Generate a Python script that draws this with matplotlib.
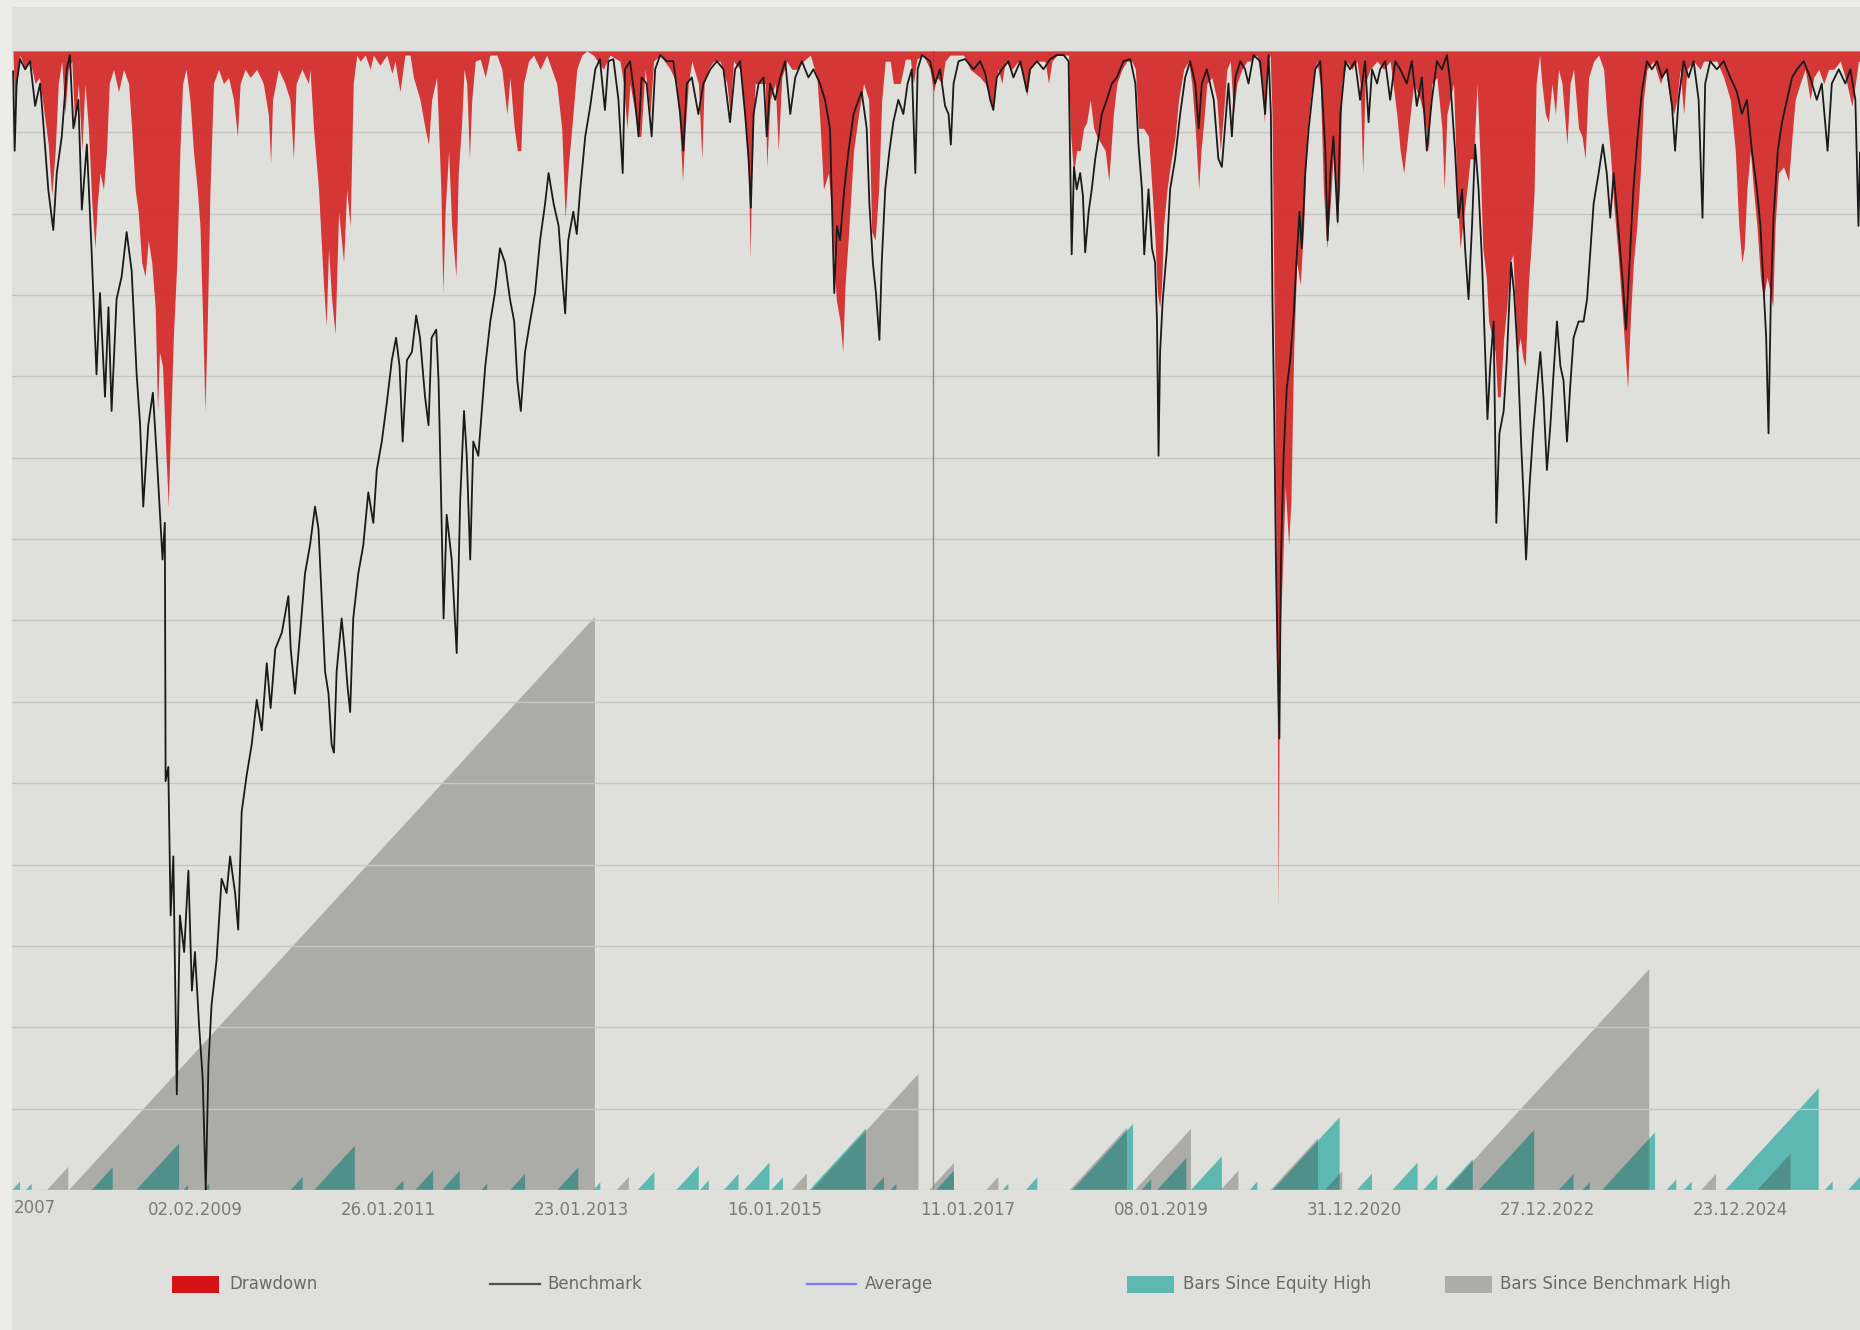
import numpy as np
import matplotlib
matplotlib.use("Agg")
import matplotlib.pyplot as plt
from matplotlib.patches import Rectangle
from matplotlib.lines import Line2D

# ---------------- data (x = bar index, y = drawdown in %) ----------------
bench_x = [27, 31, 36, 45, 58, 71, 84, 97, 105, 118, 131, 140, 153, 166, 174, 183, 196, 205, 218, 230,
           243, 252, 265, 274, 282, 295, 308, 321, 334, 347, 356, 364, 377, 389, 399, 414, 420, 422, 429, 435,
           442, 451, 459, 470, 481, 490, 498, 509, 518, 526, 533, 541, 554, 567, 580, 589, 602, 610, 619, 632,
           645, 658, 671, 684, 694, 706, 723, 740, 746, 757, 770, 783, 796,
           809, 818, 826, 835, 844, 852, 858, 865, 878, 887, 893, 900, 908, 921, 934, 947, 960, 969, 982, 995,
           1008, 1019, 1028, 1036, 1047, 1060, 1071, 1081, 1094, 1103, 1111, 1123, 1129, 1135, 1142, 1150, 1163,
           1176, 1185, 1195, 1202, 1211, 1219, 1232, 1241, 1250, 1263, 1275, 1288, 1301, 1314, 1325, 1333, 1342,
           1353, 1366, 1379, 1392, 1405, 1414, 1427, 1440, 1451, 1457, 1465, 1478, 1487, 1496, 1509, 1522, 1535,
           1547, 1560, 1569, 1582, 1595,
           1606, 1612, 1625, 1638, 1647, 1655, 1668, 1681, 1690, 1703, 1720, 1737, 1755, 1763, 1772, 1785, 1802,
           1815, 1833, 1850, 1867, 1884, 1897, 1910, 1923, 1932, 1938, 1945, 1958, 1971, 1979, 1988, 2001, 2014,
           2027, 2040, 2053, 2070, 2087, 2100, 2117, 2130, 2143, 2154, 2161, 2169, 2180, 2191, 2204, 2217, 2225,
           2238, 2245, 2254, 2262, 2271, 2277, 2286, 2297, 2307, 2320, 2333, 2344, 2355, 2364, 2370, 2381,
           2402, 2415, 2428, 2441, 2450, 2456, 2463, 2476, 2493, 2515, 2532, 2545, 2558, 2566, 2575, 2588, 2605,
           2618, 2636, 2653, 2661, 2679, 2696, 2713, 2731, 2748, 2761, 2769, 2775, 2782, 2791, 2798, 2804, 2813,
           2821, 2830, 2839, 2847, 2860, 2873, 2886, 2903, 2921, 2934, 2942, 2951, 2957, 2968, 2977, 2985, 2990,
           2994, 2998, 3005, 3016, 3024, 3037, 3050, 3063, 3076, 3089, 3098, 3106, 3119, 3137, 3149, 3158, 3167,
           3175, 3184, 3193, 3206,
           3218, 3227, 3240, 3257, 3270, 3279, 3285, 3289, 3294, 3298, 3302, 3307, 3311, 3318, 3326, 3335, 3344,
           3351, 3359, 3365, 3374, 3383, 3391, 3400, 3413, 3426, 3432, 3439, 3447, 3458, 3465, 3478, 3490, 3503,
           3516, 3529, 3538, 3547, 3560, 3568, 3581, 3594, 3607, 3620, 3637, 3650, 3663, 3676, 3689, 3702, 3715,
           3728, 3741, 3750, 3762, 3771, 3780, 3788, 3797, 3806, 3814, 3823, 3832, 3840, 3846, 3853, 3862, 3869,
           3877, 3888, 3896, 3907, 3915, 3924, 3933, 3940, 3946, 3955, 3964, 3974,
           3983, 3991, 4000, 4009, 4017, 4026, 4035, 4043, 4052, 4060, 4069, 4082, 4095, 4104, 4112, 4121, 4134,
           4145, 4155, 4164, 4173, 4186, 4197, 4205, 4214, 4224, 4235, 4246, 4259, 4272, 4285, 4298, 4311, 4324,
           4332, 4341, 4354, 4367, 4380, 4393, 4403, 4410, 4423, 4440, 4458, 4475, 4492, 4505, 4518, 4531, 4544,
           4553, 4561, 4568, 4574, 4580, 4587, 4598, 4609, 4622, 4635, 4648, 4665, 4682, 4699, 4712, 4727, 4738,
           4756, 4773, 4786, 4799, 4807, 4811]
bench_dd = [1.0, 4.9, 1.6, 0.4, 0.9, 0.5, 2.7, 1.6, 3.5, 6.8, 8.8, 6.0, 4.2, 0.9, 0.2, 3.8, 2.4, 7.8, 4.6, 9.7,
            15.9, 11.9, 17.0, 12.6, 17.7, 12.2, 11.1, 8.9, 10.8, 15.9, 18.4, 22.4, 18.4, 16.8, 19.9, 25.0, 23.2, 35.9, 35.2, 42.5,
            39.6, 51.3, 42.5, 44.3, 40.3, 46.2, 44.3, 48.0, 50.5, 56.0, 49.8, 46.9, 44.7, 40.7, 41.4, 39.6, 41.4, 43.2, 37.4, 35.6,
            34.1, 31.9, 33.4, 30.1, 32.3, 29.4, 28.6, 26.8, 29.4, 31.6, 28.7, 25.7, 24.3,
            22.4, 23.5, 26.8, 30.5, 31.6, 34.1, 34.5, 30.5, 27.9, 29.7, 31.2, 32.5, 27.9, 25.7, 24.3, 21.7, 23.2, 20.6, 19.2, 17.3,
            15.2, 14.1, 15.5, 19.2, 15.2, 14.8, 13.0, 14.1, 17.0, 18.4, 14.1, 13.7, 16.2, 21.4, 27.9, 22.8, 25.0,
            29.6, 22.1, 17.7, 19.9, 25.0, 19.2, 19.9, 17.7, 15.5, 13.3, 11.9, 9.7, 10.4, 12.2, 13.3, 16.2, 17.7,
            14.8, 13.3, 11.9, 9.3, 7.5, 6.0, 7.5, 8.6, 11.5, 12.9, 9.3, 7.9, 9.0, 6.8, 4.2, 2.7, 0.9,
            0.4, 2.9, 0.5, 0.4, 2.4,
            6.0, 0.9, 0.5, 2.4, 4.2, 1.3, 1.6, 4.2, 0.9, 0.2, 0.5, 0.5, 3.1, 4.9, 1.6, 1.3, 3.1,
            1.6, 0.9, 0.5, 0.9, 3.5, 0.9, 0.5, 3.1, 5.3, 7.7, 3.1, 1.6, 1.3, 4.2, 1.6, 2.4, 1.3,
            0.5, 3.1, 1.3, 0.5, 1.3, 0.9, 1.6, 2.4, 3.8, 11.9, 8.6, 9.3, 6.8, 4.9, 3.1, 2.4, 2.0,
            3.8, 7.5, 10.4, 11.9, 14.2, 10.4, 6.8, 4.9, 3.5, 2.4, 3.1, 1.6, 0.9, 6.0, 0.9, 0.2,
            0.5, 1.6, 0.9, 2.7, 3.1, 4.6, 1.6, 0.5, 0.4, 0.9, 0.5, 1.1, 2.4, 2.9, 1.3, 0.9, 0.5,
            1.3, 0.5, 2.0, 0.9, 0.5, 0.9, 0.4, 0.2, 0.2, 0.5, 10.0, 5.7, 6.8, 6.0, 7.1, 9.9, 7.9,
            6.8, 5.3, 4.2, 3.1, 2.4, 1.6, 1.3, 0.5, 0.4, 1.6, 4.6, 6.8, 10.0, 6.8, 9.7, 10.4, 13.3,
            19.9, 14.8, 12.2, 9.7, 6.8, 5.3, 3.1, 1.3, 0.5, 1.6, 3.8, 1.6, 0.9, 2.4, 5.3, 5.7, 3.5,
            1.6, 4.2, 1.3, 0.5,
            0.9, 1.6, 0.2, 0.5, 3.1, 0.2, 3.1, 12.2, 18.4, 25.0, 29.4, 33.8, 25.0, 19.9, 16.6, 15.2, 13.0,
            10.4, 7.9, 9.7, 6.0, 3.8, 2.4, 0.9, 0.5, 4.9, 9.3, 6.0, 4.2, 8.4, 3.1, 0.5, 0.9, 0.5,
            2.4, 0.5, 3.5, 0.9, 1.6, 0.9, 0.5, 2.4, 0.5, 0.9, 1.6, 0.5, 2.7, 1.3, 4.9, 2.4, 0.5,
            0.9, 0.2, 1.6, 4.9, 8.2, 6.8, 9.7, 12.2, 8.6, 4.6, 6.8, 10.4, 14.8, 18.1, 15.5, 13.3, 23.2,
            18.8, 17.7, 15.2, 10.4, 11.9, 14.8, 19.2, 22.1, 25.0, 21.4, 18.8, 16.6,
            14.8, 17.0, 20.6, 18.4, 15.9, 13.3, 15.5, 16.2, 19.2, 16.6, 14.1, 13.3, 13.3, 12.2, 10.0, 7.5, 6.0,
            4.6, 6.0, 8.2, 6.0, 8.9, 11.5, 13.7, 10.4, 6.8, 4.2, 2.0, 0.5, 0.9, 0.5, 1.3, 0.9, 2.7,
            4.9, 2.4, 0.5, 1.3, 0.5, 2.4, 8.2, 1.6, 0.5, 0.9, 0.5, 1.3, 2.0, 3.1, 2.4, 4.9, 6.8,
            8.6, 11.5, 14.1, 18.8, 12.2, 8.2, 4.9, 3.5, 2.4, 1.3, 0.9, 0.5, 1.3, 2.4, 1.6, 4.9, 1.6,
            0.9, 1.6, 0.9, 2.4, 8.6, 5.0]

dd_x = [27, 32, 38, 45, 58, 71, 84, 95, 105, 118, 127, 136, 144, 153, 161, 170, 179, 187, 196, 205,
        213, 222, 231, 239, 245, 252, 261, 269, 276, 287, 300, 313, 326, 334, 343, 351, 360, 369, 377, 386,
        395, 401, 406, 414, 423, 429, 435, 442, 451, 459, 466, 475, 485, 494, 504, 511, 518, 524, 530, 537,
        546, 559, 572, 585, 598, 608, 615, 628, 641, 658, 675, 688, 694, 699, 714, 731, 744, 753, 760, 775, 792,
        796, 805, 818, 831, 838, 844, 852, 861, 870, 883, 891, 900, 908, 917, 926, 939, 952, 960, 977, 995,
        1008, 1016, 1029, 1042, 1055, 1064, 1081, 1094, 1103, 1111, 1124, 1135, 1140, 1146, 1155, 1163, 1174,
        1180, 1189, 1195, 1202, 1209, 1215, 1224, 1237, 1250, 1262, 1280, 1293, 1306, 1314, 1325, 1333, 1342,
        1349, 1362, 1375, 1392, 1409, 1435, 1448, 1457, 1465, 1474, 1487, 1500, 1513, 1530, 1556, 1573, 1599,
        1608, 1617, 1625, 1638, 1647, 1653, 1664, 1677, 1686, 1703, 1729, 1746, 1755, 1761, 1768, 1776, 1785,
        1802, 1811, 1817, 1828, 1841, 1858, 1876, 1884, 1893, 1910, 1923, 1932, 1936, 1940, 1949, 1962, 1975,
        1979, 1988, 2001, 2009, 2018, 2031, 2044, 2057, 2074, 2092, 2109, 2117, 2126, 2139, 2150, 2159, 2169,
        2176, 2182, 2191, 2204, 2217, 2230, 2243, 2251, 2260, 2269, 2277, 2286, 2299, 2307, 2325, 2338, 2351,
        2359, 2368, 2385,
        2402, 2411, 2420, 2433, 2441, 2454, 2489, 2506, 2532, 2545, 2558, 2565, 2571, 2579, 2588, 2597, 2614,
        2631, 2644, 2653, 2662, 2679, 2700, 2709, 2718, 2731, 2761, 2765, 2774, 2782, 2791, 2800, 2808, 2817,
        2826, 2834, 2847, 2856, 2865, 2869, 2877, 2886, 2899, 2912, 2925, 2934, 2942, 2955, 2968, 2977, 2985,
        2991, 2997, 3002, 3007, 3016, 3024, 3037, 3046, 3059, 3072, 3080, 3089, 3098, 3104, 3111, 3119, 3132,
        3145, 3154, 3162, 3171, 3180, 3188, 3197, 3210, 3223,
        3231, 3249, 3262, 3268, 3275, 3283, 3288, 3292, 3296, 3299, 3302, 3304, 3306, 3309, 3316, 3322, 3331,
        3337, 3344, 3352, 3361, 3370, 3378, 3387, 3395, 3404, 3413, 3421, 3430, 3439, 3447, 3456, 3463, 3469,
        3482, 3495, 3508, 3516, 3523, 3529, 3542, 3560, 3577, 3594, 3611, 3620, 3629, 3637, 3646, 3655, 3672,
        3685, 3693, 3702, 3715, 3728, 3734, 3741, 3758, 3767, 3775, 3784, 3793, 3801, 3810, 3819, 3826, 3834,
        3843, 3849, 3858, 3866, 3872, 3879, 3888, 3896, 3905, 3912, 3918, 3924, 3931, 3938, 3944, 3952, 3961,
        3967, 3972, 3981, 3987, 3996, 4004, 4013, 4022, 4030,
        4039, 4052, 4060, 4069, 4082, 4091, 4099, 4108, 4121, 4134, 4147, 4155, 4164, 4173, 4186, 4197, 4209,
        4216, 4224, 4233, 4242, 4250, 4259, 4276, 4294, 4307, 4319, 4328, 4337, 4345, 4354, 4363, 4380, 4397,
        4406, 4423, 4440, 4458, 4475, 4488, 4497, 4505, 4511, 4518, 4527, 4535, 4544, 4553, 4561, 4570, 4579,
        4585, 4591, 4600, 4613, 4626, 4635, 4643, 4656, 4669, 4682, 4691, 4704, 4717, 4730, 4743, 4760, 4777,
        4790, 4799, 4807, 4811]
dd_val = [0.3, 2.7, 1.3, 0.2, 0.9, 0.5, 1.6, 1.3, 2.7, 4.6, 7.1, 4.9, 1.6, 0.5, 3.1, 0.9, 0.5, 3.8, 1.6, 4.9,
          1.6, 3.8, 7.5, 9.7, 7.5, 6.0, 6.8, 4.9, 1.6, 0.9, 2.0, 0.9, 1.6, 3.8, 6.8, 7.9, 10.4, 11.1, 9.3, 10.4,
          12.6, 17.7, 14.8, 15.5, 19.9, 22.4, 18.4, 14.1, 10.4, 4.9, 1.6, 0.9, 2.4, 4.9, 6.8, 8.6, 13.3, 17.7, 13.3, 6.8,
          1.6, 0.9, 1.6, 1.3, 2.4, 4.2, 1.6, 0.9, 1.3, 0.9, 1.6, 3.1, 5.5, 2.4, 0.9, 1.6, 2.4, 5.3, 1.6, 0.9, 1.6,
          0.9, 3.8, 6.8, 11.5, 13.5, 9.7, 12.2, 13.9, 7.9, 10.4, 6.8, 8.6, 1.6, 0.2, 0.5, 0.2, 0.9, 0.2, 0.7, 0.2,
          1.1, 0.5, 2.0, 0.2, 0.2, 1.3, 2.4, 3.8, 4.6, 2.4, 1.3, 6.8, 11.9, 7.9, 4.9, 8.6, 11.1,
          6.0, 3.5, 0.9, 1.6, 5.3, 2.4, 0.5, 0.4, 1.3, 0.2, 0.2, 0.9, 3.1, 1.3, 3.8, 4.9, 4.9,
          1.6, 0.5, 0.2, 0.9, 0.2, 1.6, 3.8, 8.2, 5.7, 3.8, 0.9, 0.2, 0.0, 0.2, 0.9, 0.2, 0.5,
          1.6, 3.8, 1.6, 3.1, 4.2, 4.2, 0.9, 3.1, 0.5, 0.2, 0.9, 1.6, 4.2, 6.4, 3.8, 1.6, 0.5,
          1.6, 5.3, 1.6, 0.9, 0.5, 0.5, 1.6, 3.1, 0.5, 0.9, 3.5, 6.0, 10.2, 6.0, 1.6, 1.6, 1.6,
          5.7, 2.4, 1.6, 4.9, 1.3, 0.5, 0.9, 0.9, 0.5, 0.2, 1.3, 3.5, 6.8, 6.0, 8.6, 12.2, 13.3,
          14.8, 11.5, 9.0, 4.9, 3.1, 1.6, 2.4, 8.9, 9.3, 6.8, 2.4, 0.5, 0.5, 1.6, 1.6, 0.4, 0.4,
          1.6, 0.4, 0.2,
          0.9, 2.0, 1.3, 1.6, 0.5, 0.2, 0.2, 0.9, 1.3, 1.6, 2.4, 2.9, 1.6, 0.9, 1.6, 0.5, 0.9,
          0.5, 1.3, 2.2, 0.9, 0.5, 0.5, 1.6, 0.5, 0.2, 0.2, 3.8, 6.0, 4.9, 4.9, 3.8, 3.5, 2.4,
          3.8, 4.2, 4.6, 4.9, 6.4, 5.3, 3.1, 1.6, 0.9, 0.5, 0.5, 0.9, 3.8, 3.8, 4.2, 6.8, 9.3,
          11.9, 12.6, 11.5, 8.6, 6.8, 5.7, 4.2, 2.4, 0.9, 0.5, 1.6, 3.8, 6.8, 4.9, 3.5, 1.6, 1.3,
          2.4, 4.9, 3.1, 0.9, 0.5, 3.1, 1.6, 0.9, 0.5,
          0.5, 0.2, 1.6, 3.5, 0.5, 0.2, 3.1, 10.4, 17.7, 26.8, 34.1, 42.2, 34.1, 28.6, 25.0, 21.4, 24.3,
          22.1, 14.8, 10.4, 11.5, 8.6, 4.2, 2.4, 1.3, 0.5, 1.6, 6.8, 9.7, 7.5, 4.9, 8.6, 6.8, 1.6,
          0.5, 0.9, 0.5, 1.6, 6.0, 1.6, 0.9, 0.5, 0.9, 0.5, 3.1, 4.9, 6.0, 4.6, 3.1, 1.6, 2.4,
          3.5, 4.9, 1.6, 1.3, 3.8, 6.8, 3.1, 1.6, 6.8, 9.7, 8.2, 6.8, 5.3, 5.3, 1.6, 4.9, 9.7,
          11.1, 13.3, 14.1, 14.8, 17.0, 17.0, 14.1, 12.6, 10.4, 10.0, 12.6, 14.8, 14.1, 15.1, 15.5, 11.5, 9.0,
          6.8, 1.6, 0.2, 1.6, 3.1, 3.5, 1.6, 3.1, 0.9,
          1.6, 4.6, 1.6, 0.9, 3.8, 4.2, 5.3, 1.3, 0.5, 0.2, 0.9, 3.1, 4.9, 7.5, 10.4, 13.3, 16.6,
          13.3, 10.4, 8.6, 6.0, 2.4, 0.9, 0.5, 1.6, 0.9, 2.4, 3.1, 2.4, 0.9, 3.1, 0.9, 0.5, 0.9,
          0.5, 0.5, 0.5, 1.3, 2.4, 4.9, 8.6, 10.4, 9.7, 6.8, 4.9, 6.8, 8.6, 11.1, 12.2, 11.1, 11.9,
          12.6, 8.6, 6.0, 5.7, 6.4, 4.2, 2.4, 1.6, 0.9, 2.4, 1.3, 0.9, 1.6, 0.9, 0.9, 0.5, 1.6,
          2.7, 1.6, 0.5, 0.5]

# bars since benchmark high: underwater episodes (start bar, end bar)
bench_uw_start = [115, 172, 1591, 2044, 2096, 2400, 2548, 2764, 2933, 3155, 3284, 3425, 3740, 4400, 4545]
bench_uw_end   = [170, 1534, 1622, 2083, 2372, 2464, 2579, 2912, 3078, 3201, 3407, 3470, 4265, 4438, 4631]

# bars since equity high: underwater episodes (start bar, end bar)
eq_uw_start = [25, 60, 231, 346, 468, 520, 746, 807, 1015, 1069, 1138, 1240, 1315, 1437, 1530, 1645, 1745,
               1806, 1868, 1921, 1991, 2090, 2252, 2300, 2418, 2590, 2650, 2771, 2950, 2990, 3078, 3230, 3290,
               3508, 3600, 3680, 3735, 3824, 4031, 4092, 4143, 4310, 4355, 4462, 4720, 4780]
eq_uw_end   = [45, 75, 285, 457, 480, 535, 777, 912, 1038, 1115, 1184, 1255, 1353, 1491, 1548, 1688, 1803,
               1829, 1906, 1986, 2021, 2236, 2283, 2315, 2464, 2605, 2680, 2928, 2975, 3066, 3158, 3250, 3463,
               3547, 3665, 3716, 3808, 3967, 4069, 4111, 4280, 4335, 4375, 4704, 4740, 4811]

# x tick labels (the first one is only partly visible in the reference: "2007")
first_tick_text = "2007"
tick_bars = [500, 1000, 1500, 2000, 2500, 3000, 3500, 4000, 4500]
tick_labels = ["02.02.2009", "26.01.2011", "23.01.2013", "16.01.2015",
               "11.01.2017", "08.01.2019", "31.12.2020", "27.12.2022", "23.12.2024"]
marker_bar = 2409

legend_labels = ["Drawdown", "Benchmark", "Average", "Bars Since Equity High", "Bars Since Benchmark High"]

# ---------------- figure ----------------
W, H = 1860, 1330
fig = plt.figure(figsize=(W / 100, H / 100), dpi=100)
fig.patch.set_facecolor('#ecece8')
PANEL = '#dfdfdb'
fig.add_artist(Rectangle((12 / W, 0), 1 - 12 / W, (H - 7) / H, transform=fig.transFigure,
                         facecolor=PANEL, edgecolor='none', zorder=-10))

ax_left = 2.7 / W
ax_bot = (H - 1190) / H
ax_h = (1190 - 51) / H
ax = fig.add_axes([ax_left, ax_bot, 1 - ax_left, ax_h])
ax.set_facecolor('none')
ax.set_xlim(0, 4811)
ax.set_ylim(0, 2707)
for s in ax.spines.values():
    s.set_visible(False)
ax.set_yticks([])

TEAL = '#5cb8b0'
GRAYC = '#353533'
for s, e in zip(eq_uw_start, eq_uw_end):
    ax.fill([s, e, e], [0, e - s, 0], color=TEAL, lw=0, zorder=1)
for s, e in zip(bench_uw_start, bench_uw_end):
    ax.fill([s, e, e], [0, e - s, 0], color=GRAYC, alpha=0.3, lw=0, zorder=2)

TICK_COLOR = '#7a7a78'
ax.set_xticks(tick_bars)
ax.set_xticklabels(tick_labels, fontsize=12, color=TICK_COLOR)
ax.tick_params(axis='x', length=0, pad=8)
fig.text(14 / W, (H - 1208) / H, first_tick_text, fontsize=12, color=TICK_COLOR,
         ha='left', va='center')

ax2 = ax.twinx()
ax2.set_ylim(-56, 0)
ax2.set_xlim(0, 4811)
for s in ax2.spines.values():
    s.set_visible(False)
ax2.set_yticks(np.arange(-56, 1, 4))
ax2.tick_params(axis='y', right=False, left=False, labelright=False, labelleft=False)
ax2.grid(axis='y', color='#c6c6c2', lw=1.0)
ax2.set_axisbelow(True)

ax2.axvline(marker_bar, color='#8c8c8a', lw=1.0, zorder=2)
ax2.fill_between(dd_x, -np.array(dd_val), 0, color='#d41a1a', alpha=0.85, lw=0, zorder=3)
ax2.plot(bench_x, -np.array(bench_dd), color='#1a1a1a', lw=1.3, zorder=4)

# strips outside the chart panel
fig.add_artist(Rectangle((0, 0), 12 / W, 1, transform=fig.transFigure,
                         facecolor='#ecece8', edgecolor='none', zorder=20))
fig.add_artist(Rectangle((0, (H - 7) / H), 1, 7 / H, transform=fig.transFigure,
                         facecolor='#ecece8', edgecolor='none', zorder=20))

# ---------------- legend ----------------
ly = 1284
def fy(y):
    return (H - y) / H

def fx(x):
    return x / W

txt_kw = dict(fontsize=12, color='#6a6a68', va='center', ha='left')
fig.add_artist(Rectangle((fx(172), fy(1293)), 47 / W, 17 / H, transform=fig.transFigure,
                         facecolor='#d41414', edgecolor='none'))
fig.text(fx(229), fy(ly), legend_labels[0], **txt_kw)
fig.add_artist(Line2D([fx(490), fx(540)], [fy(ly), fy(ly)], transform=fig.transFigure,
                      color='#505050', lw=1.6))
fig.text(fx(547), fy(ly), legend_labels[1], **txt_kw)
fig.add_artist(Line2D([fx(807), fx(856)], [fy(ly), fy(ly)], transform=fig.transFigure,
                      color='#7b7bff', lw=1.6))
fig.text(fx(865), fy(ly), legend_labels[2], **txt_kw)
fig.add_artist(Rectangle((fx(1127), fy(1293)), 47 / W, 17 / H, transform=fig.transFigure,
                         facecolor=TEAL, edgecolor='none'))
fig.text(fx(1183), fy(ly), legend_labels[3], **txt_kw)
fig.add_artist(Rectangle((fx(1445), fy(1293)), 47 / W, 17 / H, transform=fig.transFigure,
                         facecolor='#acaca9', edgecolor='none'))
fig.text(fx(1500), fy(ly), legend_labels[4], **txt_kw)

fig.savefig('out.png', dpi=100, facecolor=fig.get_facecolor())
